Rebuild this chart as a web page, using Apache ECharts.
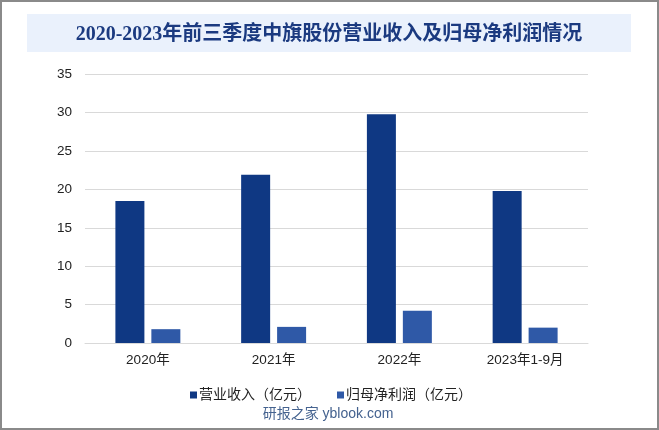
<!DOCTYPE html>
<html>
<head>
<meta charset="utf-8">
<style>
html, body { margin: 0; padding: 0; background: #fff; }
#main { width: 659px; height: 430px; }
</style>
<script src="https://cdn.jsdelivr.net/npm/echarts@6/dist/echarts.min.js"></script>
</head>
<body>
<div id="main"></div>
<script>
var categories = ['2020年', '2021年', '2022年', '2023年1-9月'];
var revenue = [18.5, 21.9, 29.8, 19.8];
var netProfit = [1.8, 2.1, 4.2, 2.0];
var yTicks = { min: 0, max: 35, interval: 5 };

var font = '"Liberation Sans", "Noto Sans CJK SC", sans-serif';

var chart = echarts.init(document.getElementById('main'));
var option = {
	animation: false,
	backgroundColor: '#fff',
	graphic: [{
		type: 'rect',
		shape: { x: 1, y: 1, width: 657, height: 428 },
		style: { fill: 'none', stroke: '#8a8a8a', lineWidth: 2 },
		z: -1
	}, {
		type: 'rect',
		shape: { x: 27, y: 14, width: 604, height: 38 },
		style: { fill: '#eaf1fc' },
		z: -1
	}, {
		type: 'text',
		x: 329,
		y: 35,
		style: {
			text: '2020-2023年前三季度中旗股份营业收入及归母净利润情况',
			fill: '#1b3a80',
			font: 'bold 20px "Liberation Serif", "Noto Sans CJK SC", serif',
			align: 'center',
			verticalAlign: 'middle'
		}
	}, {
		type: 'text',
		x: 328,
		y: 414,
		style: {
			text: '研报之家 yblook.com',
			fill: '#44628f',
			font: '14px ' + font,
			align: 'center',
			verticalAlign: 'middle'
		}
	}],
	legend: {
		left: 185,
		top: 383,
		icon: 'rect',
		itemWidth: 7,
		itemHeight: 7,
		itemGap: 26,
		textStyle: { fontSize: 14, color: '#222', fontFamily: font, padding: [0, 0, 0, -3] },
		data: ['营业收入（亿元）', '归母净利润（亿元）']
	},
	grid: {
		left: 85,
		right: 71,
		top: 74.3,
		bottom: 87,
		containLabel: false
	},
	xAxis: {
		type: 'category',
		data: categories,
		axisLine: { lineStyle: { color: '#d9d9d9' } },
		axisTick: { show: false },
		axisLabel: { color: '#222', fontSize: 13.5, fontFamily: font, margin: 11 }
	},
	yAxis: {
		type: 'value',
		min: yTicks.min,
		max: yTicks.max,
		interval: yTicks.interval,
		axisLine: { show: false },
		axisTick: { show: false },
		axisLabel: { color: '#222', fontSize: 13.5, fontFamily: font, margin: 13 },
		splitLine: { lineStyle: { color: '#d9d9d9' } }
	},
	series: [{
		name: '营业收入（亿元）',
		type: 'bar',
		data: revenue,
		barWidth: 29,
		barGap: '24%',
		itemStyle: { color: '#0f3883' }
	}, {
		name: '归母净利润（亿元）',
		type: 'bar',
		data: netProfit,
		barWidth: 29,
		itemStyle: { color: '#2f59a7' }
	}]
};
chart.setOption(option);
</script>
</body>
</html>
